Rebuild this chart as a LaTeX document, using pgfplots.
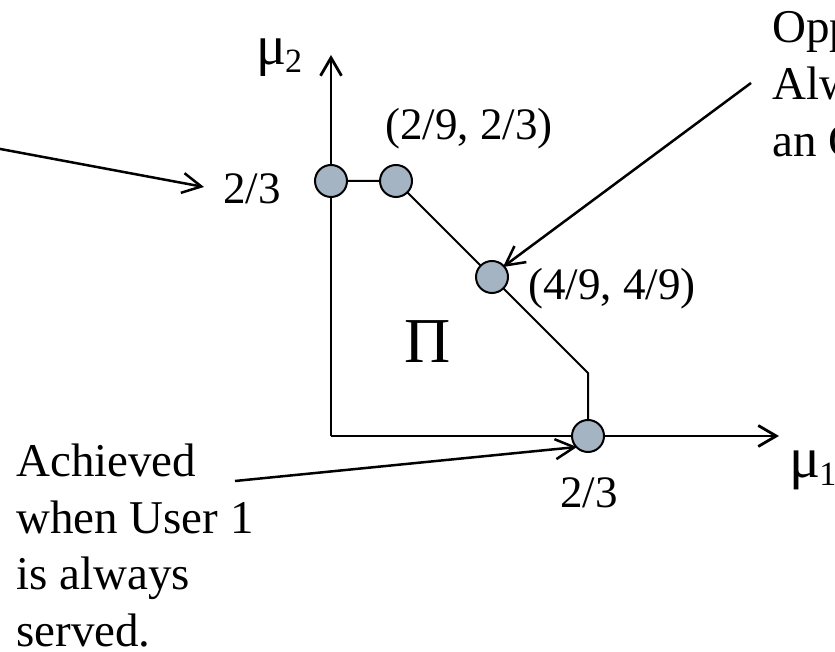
\documentclass[border=0pt]{standalone}
\usepackage{fontspec}
\setmainfont{Liberation Serif}
\usepackage{pgfplots}
\pgfplotsset{compat=1.18}
\usetikzlibrary{arrows.meta}
\definecolor{ptfill}{RGB}{165,180,195}
\begin{document}
\begin{tikzpicture}[x=1pt,y=1pt]
\useasboundingbox (0,0) rectangle (835,652);
\clip (0,0) rectangle (835,652);
\begin{axis}[at={(0,0)},anchor=south west,
  width=835pt,height=652pt,scale only axis,
  xmin=0,xmax=835,ymin=0,ymax=652,hide axis,clip=false]
% coordinate axes
\addplot[line width=2.8pt,-{Straight Barb[length=18pt,width=21pt]}] coordinates {(331,216) (331,597)};
\addplot[line width=2.8pt,-{Straight Barb[length=18pt,width=21pt]}] coordinates {(331,216) (779,216)};
% boundary of the region
\addplot[line width=2pt] coordinates {(331,471) (396,471) (492,375) (588,279) (588,216)};
% annotation arrows
\addplot[line width=2.5pt,-{Straight Barb[length=19pt,width=20pt]}] coordinates {(-5,504) (204,465)};
\addplot[line width=2.5pt,-{Straight Barb[length=19pt,width=20pt]}] coordinates {(751,569) (503,385)};
\addplot[line width=2.5pt,-{Straight Barb[length=19pt,width=20pt]}] coordinates {(235,171) (577,205)};
% vertices
\addplot[only marks,mark=*,mark size=16pt,mark options={fill=ptfill,draw=black,line width=2pt}] coordinates {(331,471) (396,471) (492,375) (588,216)};
% labels
\begin{scope}[every node/.style={inner sep=0pt,anchor=base west,font=\fontsize{45}{54}\selectfont}]
\node at (axis cs:223,448) {2/3};
\node at (axis cs:385,512) {(2/9, 2/3)};
\node at (axis cs:528,352) {(4/9, 4/9)};
\node at (axis cs:560,144) {2/3};
\node[font=\fontsize{56}{60}\selectfont] at (axis cs:256,587) {μ\hspace{-1pt}\raisebox{-8pt}{\fontsize{34}{34}\selectfont 2}};
\node[font=\fontsize{58}{60}\selectfont] at (axis cs:789,174) {μ\hspace{-1pt}\raisebox{-8pt}{\fontsize{34}{34}\selectfont 1}};
\node[anchor=base,font=\fontsize{64}{70}\selectfont] at (axis cs:427.5,289) {Π};
\end{scope}
\begin{scope}[every node/.style={inner sep=0pt,anchor=base west,font=\fontsize{47}{57}\selectfont}]
\node at (axis cs:16,175) {Achieved};
\node at (axis cs:16,118) {when User 1};
\node at (axis cs:16,62) {is always};
\node at (axis cs:16,5) {served.};
\node at (axis cs:772,609) {Opportunistic:};
\node at (axis cs:772,552) {Always serve};
\node at (axis cs:772,495) {an ON user};
\end{scope}
\end{axis}
\end{tikzpicture}
\end{document}
